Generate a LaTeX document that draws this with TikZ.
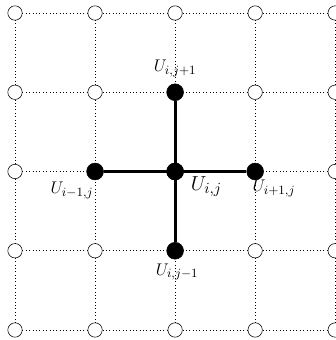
\documentclass[tikz,border=0pt]{standalone}
\usepackage{amsmath,amssymb}
\usepackage{tikz}
\usetikzlibrary{positioning}

\begin{document}
\begin{tikzpicture}[
    font=\fontsize{12.5}{15}\selectfont,
    gridpt/.style={circle, draw, fill=white, inner sep=0pt, minimum size=0.36cm},
    solidpt/.style={circle, draw, fill=black, inner sep=0pt, minimum size=0.42cm},
    gridline/.style={dotted, thin},
    stencil/.style={line width=2pt}
]
    \def\h{2}
    \def\v{1.98}
    \useasboundingbox (-0.375,-0.25) rectangle (8.0,8.245);
    % grid points
    \foreach \i in {0,...,4} {
        \foreach \j in {0,...,4} {
            \node[gridpt] (p-\i-\j) at (\i*\h,\j*\v) {};
        }
    }
    % dotted grid
    \foreach \i in {0,...,4} {
        \foreach \j [count=\jj from 1] in {0,...,3} {
            \draw[gridline] (p-\i-\j) -- (p-\i-\jj);
            \draw[gridline] (p-\j-\i) -- (p-\jj-\i);
        }
    }
    % five-point stencil
    \node[solidpt] (c) at (p-2-2) {};
    \node[solidpt] (w) at (p-1-2) {};
    \node[solidpt] (e) at (p-3-2) {};
    \node[solidpt] (n) at (p-2-3) {};
    \node[solidpt] (s) at (p-2-1) {};
    \draw[stencil] (c.center) -- (w);
    \draw[stencil] (c.center) -- (e);
    \draw[stencil] (c.center) -- (n);
    \draw[stencil] (c.center) -- (s);
    \node[solidpt] at (c) {};
    \node (lab-n) at ([shift={(0,0.6)}]n) {$U_{i,j+1}$};
    \node (lab-w) at ([shift={(-0.575,-0.475)}]w) {$U_{i-1,j}$};
    \node[font=\fontsize{15}{17}\selectfont] (lab-c) at ([shift={(0.78,-0.38)}]c) {$U_{i,j}$};
    \node (lab-e) at ([shift={(0.47,-0.425)}]e) {$U_{i+1,j}$};
    \node (lab-s) at ([shift={(0.05,-0.525)}]s) {$U_{i,j-1}$};
\end{tikzpicture}
\end{document}
